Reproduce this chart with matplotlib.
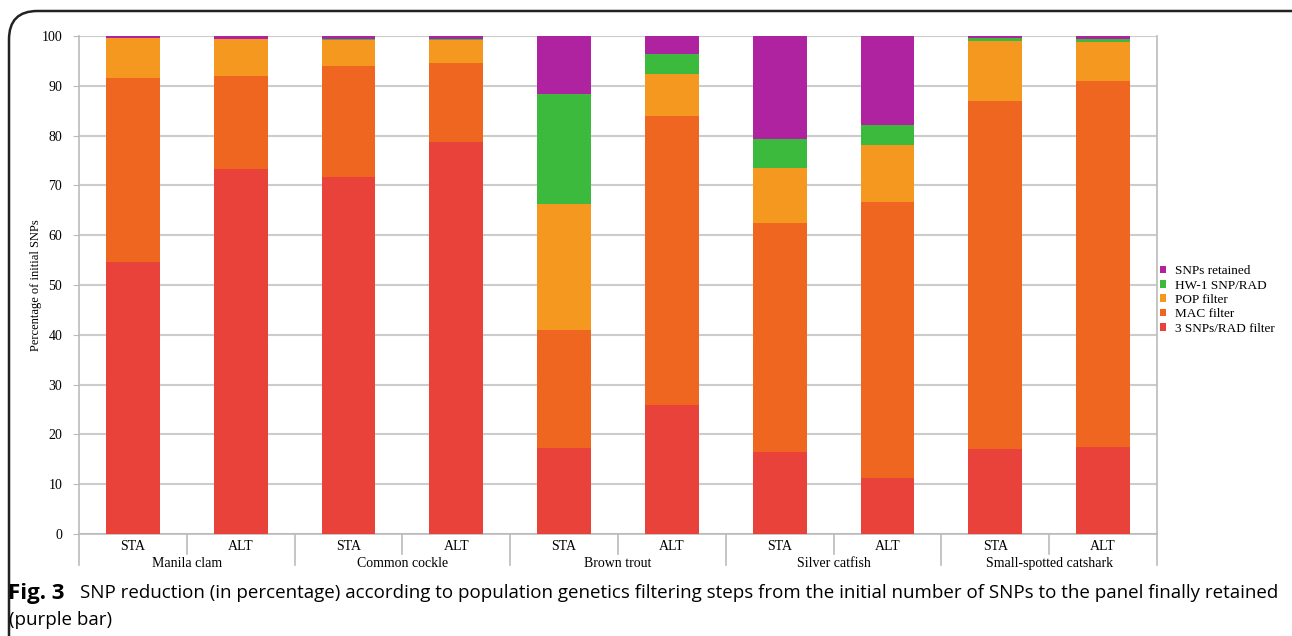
import matplotlib.pyplot as plt
from matplotlib.patches import FancyBboxPatch
from matplotlib.transforms import blended_transform_factory

# Dados (percentagem acumulada, convertida em segmentos)
species = ['Manila clam', 'Common cockle', 'Brown trout', 'Silver catfish', 'Small-spotted catshark']
methods = ['STA', 'ALT']
steps = ['3 SNPs/RAD filter', 'MAC filter', 'POP filter', 'HW-1 SNP/RAD', 'SNPs retained']

snps_rad = [54.7, 73.3, 71.7, 78.7, 17.3, 25.9, 16.5, 11.2, 17.1, 17.5]
mac = [36.8, 18.7, 22.3, 15.9, 23.7, 58.1, 45.9, 55.5, 69.8, 73.5]
pop = [8.1, 7.3, 5.2, 4.5, 25.3, 8.4, 11.0, 11.5, 12.0, 7.7]
hw1 = [0.0, 0.1, 0.2, 0.3, 22.1, 4.0, 6.0, 4.0, 0.6, 0.6]
retained = [0.4, 0.6, 0.6, 0.6, 11.6, 3.6, 20.6, 17.8, 0.5, 0.7]

colors = ['#E8423B', '#EF6620', '#F5981F', '#3BBA3E', '#B023A0']

plt.rcParams['font.family'] = ['Liberation Serif', 'DejaVu Serif']

fig = plt.figure(figsize=(12.92, 6.36), dpi=100)

# moldura arredondada
frame = FancyBboxPatch((9 / 1292, -0.05), 1.2, 1.05 - 11 / 636,
                       boxstyle='round,pad=0,rounding_size=0.022',
                       transform=fig.transFigure, fill=False,
                       edgecolor='#222222', linewidth=1.8, mutation_aspect=2.03)
fig.patches.append(frame)

ax = fig.add_axes([79 / 1292, 1 - 534 / 636, (1157 - 79) / 1292, (534 - 36) / 636])

series = [snps_rad, mac, pop, hw1, retained]
x = list(range(len(snps_rad)))
bottom = [0.0] * len(x)
handles = []
for vals, col, lab in zip(series, colors, steps):
    b = ax.bar(x, vals, width=0.5, bottom=bottom, color=col, label=lab, zorder=3)
    handles.append(b)
    bottom = [bt + v for bt, v in zip(bottom, vals)]

ax.set_xlim(-0.5, len(x) - 0.5)
ax.set_ylim(0, 100)
ax.set_yticks(range(0, 101, 10))
ax.tick_params(axis='y', length=4, color='#BBBBBB', labelsize=10, pad=8)
ax.grid(axis='y', color='#CCCCCC', linewidth=1.5, zorder=0)
ax.spines['top'].set_visible(False)
for s in ['left', 'right', 'bottom']:
    ax.spines[s].set_color('#BBBBBB')
    ax.spines[s].set_linewidth(1.2)
ax.set_xticks([])
ax.set_ylabel('Percentage of initial SNPs', fontsize=9, labelpad=0)

# rótulos de categorias em dois níveis
trans = blended_transform_factory(ax.transData, ax.transAxes)
for i in range(len(x) + 1):
    low = -0.062 if i % 2 == 0 else -0.04
    ax.plot([i - 0.5, i - 0.5], [0, low], transform=trans, color='#BBBBBB',
            linewidth=1.2, clip_on=False)
for i in x:
    ax.text(i, -0.026, methods[i % 2], transform=trans, ha='center', va='center',
            fontsize=10)
for k, sp in enumerate(species):
    ax.text(2 * k + 0.5, -0.06, sp, transform=trans, ha='center', va='center',
            fontsize=10)

leg = ax.legend(handles[::-1], steps[::-1], loc='center left',
                bbox_to_anchor=(1.0, 0.47), frameon=False, fontsize=9.5,
                handlelength=0.5, handleheight=0.5, handletextpad=0.7,
                labelspacing=0.18, borderaxespad=0.1, borderpad=0.1)

# legenda da figura
cap = ['Open Sans', 'DejaVu Sans']
fig.text(8 / 1292, 1 - 593 / 636, 'Fig. 3', fontsize=16, fontweight='bold',
         family=cap, va='center', ha='left')
fig.text(80 / 1292, 1 - 593 / 636,
         'SNP reduction (in percentage) according to population genetics filtering steps '
         'from the initial number of SNPs to the panel finally retained',
         fontsize=13.5, family=cap, va='center', ha='left')
fig.text(9 / 1292, 1 - 620 / 636, '(purple bar)', fontsize=13.5,
         family=cap, va='center', ha='left')

fig.savefig('out.png', dpi=100)
